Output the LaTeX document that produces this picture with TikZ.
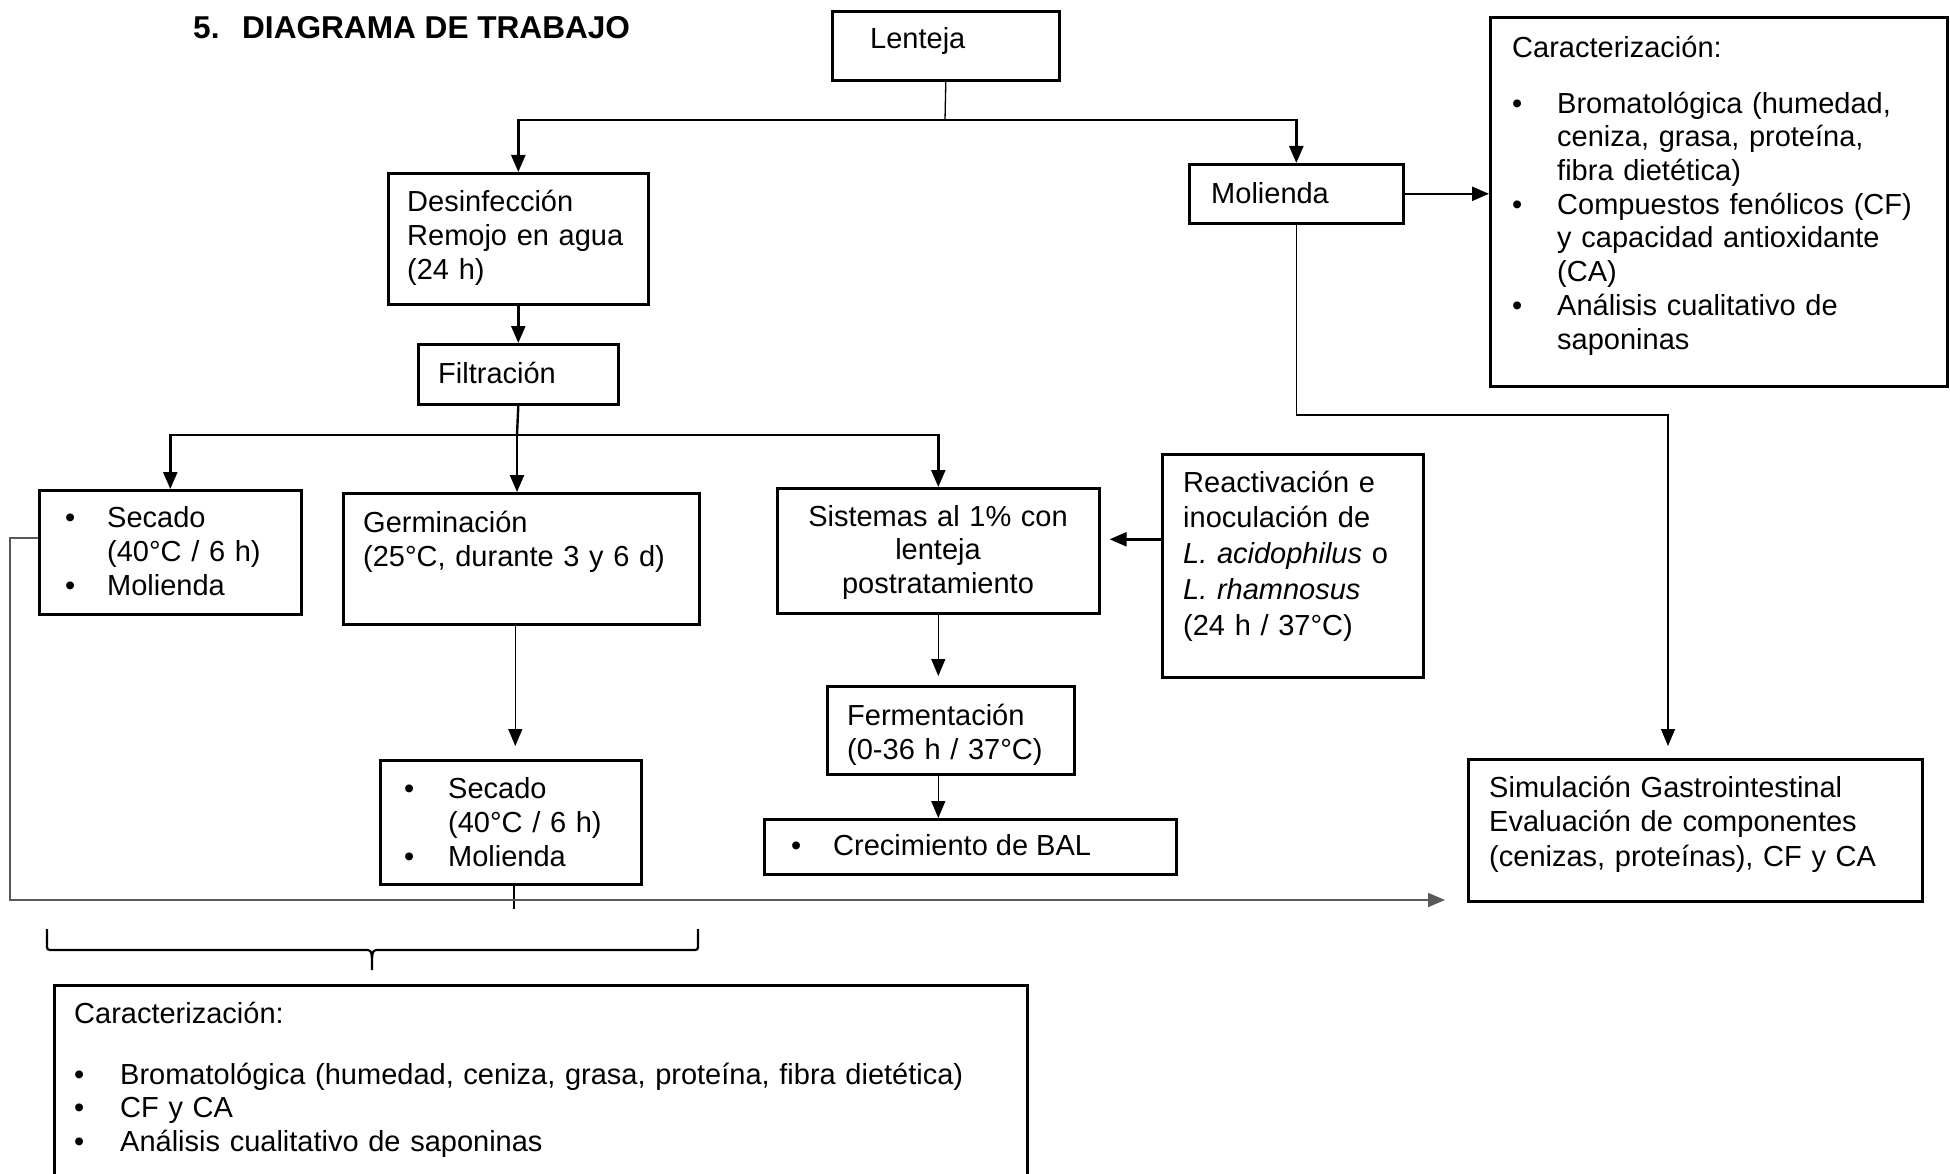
\documentclass[tikz,border=0pt]{standalone}
\usepackage{fontspec}
\setmainfont{Liberation Sans}
\usetikzlibrary{arrows.meta}
\newcommand\fs{\fontsize{29pt}{34pt}\selectfont}
\newcommand\bu[1]{\makebox[#1][l]{\textbullet}}
\begin{document}
\begin{tikzpicture}[x=1pt,y=-1pt,
  box/.style={draw, line width=2.6pt, inner sep=0pt, anchor=north west},
  txt/.style={inner sep=0pt, anchor=north west, align=left, font=\fs},
  one/.style={inner sep=0pt, anchor=base west, font=\fs},
  thk/.style={line width=2.4pt},
  thn/.style={line width=1.3pt},
  gry/.style={draw=black!65, line width=1.8pt},
  arr/.style={-{Triangle[length=17pt,width=14pt]}}]
\path[use as bounding box, fill=white] (0,0) rectangle (1950,1174);
\clip (0,0) rectangle (1950,1174);

% title
\node[one, font=\fontsize{31.6pt}{36pt}\selectfont\bfseries] (title) at (193,39) {5.\hspace{22.6pt}DIAGRAMA DE TRABAJO};

% boxes and texts
\node[box, minimum width=227pt, minimum height=69pt] (lenteja) at (831,10) {};
\node[one] (lentejaT) at (870,49) {Lenteja};

\node[box, minimum width=260pt, minimum height=131pt] (desinf) at (387,172) {};
\node[txt, text width=235pt] (desinfT) at (407,187.2) {\strut Desinfección\\Remojo en agua\\(24 h)};

\node[box, minimum width=200pt, minimum height=60pt] (filt) at (417,343) {};
\node[one] (filtT) at (438,383) {Filtración};

\node[box, minimum width=214pt, minimum height=59pt] (mol) at (1188,163) {};
\node[one] (molT) at (1211,204) {Molienda};

\node[box, minimum width=457pt, minimum height=369pt] (char1) at (1489,16) {};
\node[txt, text width=425pt, font=\fontsize{29pt}{33.7pt}\selectfont] (char1T) at (1512,33.4) {\strut Caracterización:\\[22.3pt]\bu{45pt}Bromatológica (humedad,\\\hspace*{45pt}ceniza, grasa, proteína,\\\hspace*{45pt}fibra dietética)\\\bu{45pt}Compuestos fenólicos (CF)\\\hspace*{45pt}y capacidad antioxidante\\\hspace*{45pt}(CA)\\\bu{45pt}Análisis cualitativo de\\\hspace*{45pt}saponinas};

\node[box, minimum width=262pt, minimum height=124pt] (sec1) at (38,489) {};
\node[txt, text width=230pt] (sec1T) at (65,503.2) {\strut\bu{42pt}Secado\\\hspace*{42pt}(40°C / 6 h)\\\bu{42pt}Molienda};

\node[box, minimum width=356pt, minimum height=131pt] (germ) at (342,492) {};
\node[txt, text width=330pt] (germT) at (363,508.2) {\strut Germinación\\(25°C, durante 3 y 6 d)};

\node[box, minimum width=322pt, minimum height=125pt] (sist) at (776,487) {};
\node[txt, anchor=north, align=center, text width=310pt, font=\fontsize{29pt}{33.5pt}\selectfont] (sistT) at (938,502.55) {\strut Sistemas al 1\% con\\lenteja\\postratamiento};

\node[box, minimum width=261pt, minimum height=223pt] (react) at (1161,453) {};
\node[txt, text width=240pt, font=\fontsize{29pt}{35.75pt}\selectfont] (reactT) at (1183,467) {\strut Reactivación e\\inoculación de\\\textit{L. acidophilus} o\\\textit{L. rhamnosus}\\(24 h / 37°C)};

\node[box, minimum width=247pt, minimum height=88pt] (ferm) at (826,685) {};
\node[txt, text width=225pt] (fermT) at (847,701.2) {\strut Fermentación\\(0-36 h / 37°C)};

\node[box, minimum width=412pt, minimum height=55pt] (crec) at (763,818) {};
\node[one] (crecT) at (791,855) {\bu{42pt}Crecimiento de BAL};

\node[box, minimum width=261pt, minimum height=124pt] (sec2) at (379,759) {};
\node[txt, text width=230pt] (sec2T) at (404,774.2) {\strut\bu{44pt}Secado\\\hspace*{44pt}(40°C / 6 h)\\\bu{44pt}Molienda};

\node[box, minimum width=454pt, minimum height=142pt] (simul) at (1467,758) {};
\node[txt, text width=425pt, font=\fontsize{29pt}{34.5pt}\selectfont] (simulT) at (1489,772.85) {\strut Simulación Gastrointestinal\\Evaluación de componentes\\(cenizas, proteínas), CF y CA};

\node[box, minimum width=973pt, minimum height=230pt] (char2) at (53,984) {};
\node[txt, text width=940pt, font=\fontsize{29pt}{33.5pt}\selectfont] (char2T) at (74,999.55) {\strut Caracterización:\\[27.5pt]\bu{46pt}Bromatológica (humedad, ceniza, grasa, proteína, fibra dietética)\\\bu{46pt}CF y CA\\\bu{46pt}Análisis cualitativo de saponinas};

% connectors
\coordinate (j1) at (945,120);
\draw[thn] (lenteja.south) -- (j1);
\draw[thk,arr] (j1) -| (desinf.north);
\draw[thk,arr] (j1) -| (mol.north);
\draw[thk,arr] (desinf.south) -- (filt.north);
\coordinate (j2) at (517,435);
\draw[thk] (filt.south) -- (j2);
\draw[thk,arr] (j2) -| (sec1.north);
\draw[thk,arr] (j2) -| (sist.north);
\draw[thk,arr] (j2) -- (j2 |- germ.north);
\draw[thn,arr,shorten >=13pt] ([xshift=-6pt]germ.south) -- ([xshift=-6pt]germ.south |- sec2.north);
\coordinate (s2e) at (514,909);
\draw[thn] (sec2.south -| s2e) -- (s2e);
\draw[thn,arr,shorten >=9pt] (sist.south) -- (sist.south |- ferm.north);
\draw[thn,arr] (sist.south |- ferm.south) -- (sist.south |- crec.north);
\draw[thk,arr,shorten >=9pt] ([yshift=26.5pt]react.west) -- ([yshift=26.5pt]react.west -| sist.east);
\draw[thk,arr] (mol.east) -- (mol.east -| char1.west);
\coordinate (m1) at (1668,415);
\draw[thn,arr,shorten >=12pt] (mol.south) |- (m1) -- (m1 |- simul.north);
\coordinate (gl) at (10,900);
\draw[gry,arr,shorten >=22pt] ([yshift=14pt]sec1.west) -| (gl) -- (gl -| simul.west);

% brace
\draw[line width=2.2pt] (47,929) -- (47,944) .. controls (47,950) .. (53,950) -- (364,950) .. controls (371,950) .. (372,958) -- (372,970);
\draw[line width=2.2pt] (698,929) -- (698,944) .. controls (698,950) .. (692,950) -- (380,950) .. controls (373,950) .. (372,958);
\end{tikzpicture}
\end{document}
